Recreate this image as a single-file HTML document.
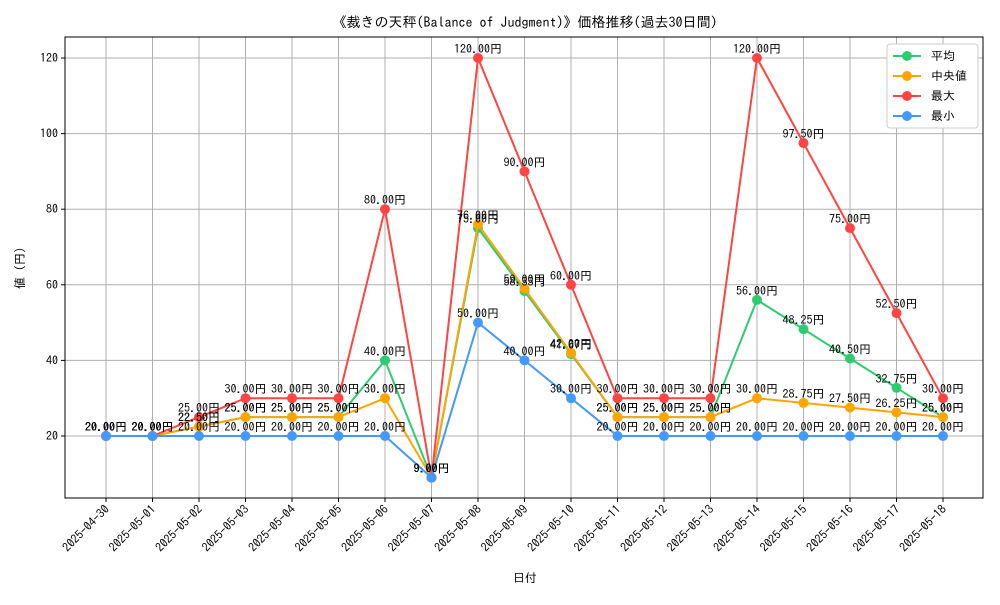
<!DOCTYPE html>
<html><head><meta charset="utf-8">
<style>
body{margin:0;background:#fff;}
svg text{font-family:"IPAGothic","Liberation Sans","Noto Sans CJK JP",sans-serif;}
</style></head>
<body>
<svg id="chart" width="1000" height="600" xmlns="http://www.w3.org/2000/svg">
<rect width="1000" height="600" fill="#fff"/>
<g id="grid"></g>
<g id="axes"></g>
<g id="series"></g>
<g id="labels"></g>
<text x="525" y="27" text-anchor="middle" font-size="14">《裁きの天秤(Balance of Judgment)》価格推移(過去30日間)</text>
<text x="525" y="582" text-anchor="middle" font-size="12">日付</text>
<text transform="translate(24,268) rotate(-90)" text-anchor="middle" font-size="12">値 (円)</text>
<g id="legend"></g>
</svg>
<script>
const dates=["2025-04-30","2025-05-01","2025-05-02","2025-05-03","2025-05-04","2025-05-05","2025-05-06","2025-05-07","2025-05-08","2025-05-09","2025-05-10","2025-05-11","2025-05-12","2025-05-13","2025-05-14","2025-05-15","2025-05-16","2025-05-17","2025-05-18"];
const avgVals=[20,20,22.5,25,25,25,40,9,75,58.33,41.67,25,25,25,56,48.25,40.5,32.75,25];
const medVals=[20,20,22.5,25,25,25,30,9,76,59,42,25,25,25,30,28.75,27.5,26.25,25];
const maxVals=[20,20,25,30,30,30,80,9,120,90,60,30,30,30,120,97.5,75,52.5,30];
const minVals=[20,20,20,20,20,20,20,9,50,40,30,20,20,20,20,20,20,20,20];
const yTicks=[20,40,60,80,100,120];
const seriesNames=["平均","中央値","最大","最小"];
const NS="http://www.w3.org/2000/svg";
const L=65,R=983,T=37,B=498;
const xS=i=>106+i*(943-106)/(dates.length-1);
const yS=v=>511.6-v*3.78;
function mk(tag,attrs,parent){const e=document.createElementNS(NS,tag);for(const k in attrs)e.setAttribute(k,attrs[k]);parent.appendChild(e);return e;}
const grid=document.getElementById('grid'),axes=document.getElementById('axes'),ser=document.getElementById('series'),lab=document.getElementById('labels'),leg=document.getElementById('legend');
dates.forEach((d,i)=>{
  const x=xS(i);
  const gl=mk('line',{x1:x,x2:x,y1:T,y2:B,stroke:'#b0b0b0','stroke-width':1},grid);
  
  mk('line',{x1:x,x2:x,y1:B,y2:B+4,stroke:'#000'},axes);
  const t=mk('text',{transform:`translate(${x+4},${B+12}) rotate(-45)`,'text-anchor':'end','font-size':12},axes);
  
  t.textContent=d;
});
yTicks.forEach(v=>{
  const y=yS(v);
  const gl=mk('line',{x1:L,x2:R,y1:y,y2:y,stroke:'#b0b0b0','stroke-width':1},grid);
  
  mk('line',{x1:L-4,x2:L,y1:y,y2:y,stroke:'#000'},axes);
  const t=mk('text',{x:L-7,y:y+4,'text-anchor':'end','font-size':12},axes);
  
  t.textContent=v;
});
const frame=mk('rect',{x:L,y:T,width:R-L,height:B-T,fill:'none',stroke:'#000','stroke-width':1},axes);

const all=[[avgVals,'#2ecc71','avg'],[medVals,'#ffa500','median'],[maxVals,'#ff4444','max'],[minVals,'#4499ff','min']];
all.forEach(([vals,col,nm])=>{
  const pl=mk('polyline',{points:vals.map((v,i)=>xS(i)+','+yS(v)).join(' '),fill:'none',stroke:col,'stroke-width':2},ser);
  
  vals.forEach((v,i)=>{
    const c=mk('circle',{cx:xS(i),cy:yS(v),r:5,fill:col},ser);
    
    const t=mk('text',{x:xS(i),y:yS(v)-5,'text-anchor':'middle','font-size':12},lab);
    
    t.textContent=v.toFixed(2)+'円';
  });
});
const lb=mk('rect',{x:887,y:44,width:91,height:84,fill:'#fff',stroke:'#ccc',rx:3},leg);

all.forEach(([vals,col,nm],k)=>{
  const y=56+k*20;
  const g=mk('g',{},leg);
  
  mk('line',{x1:893,x2:921,y1:y,y2:y,stroke:col,'stroke-width':2},g);
  mk('circle',{cx:907,cy:y,r:5,fill:col},g);
  const t=mk('text',{x:931,y:y+4,'font-size':12},g);
  t.textContent=seriesNames[k];
});
</script>
</body></html>
